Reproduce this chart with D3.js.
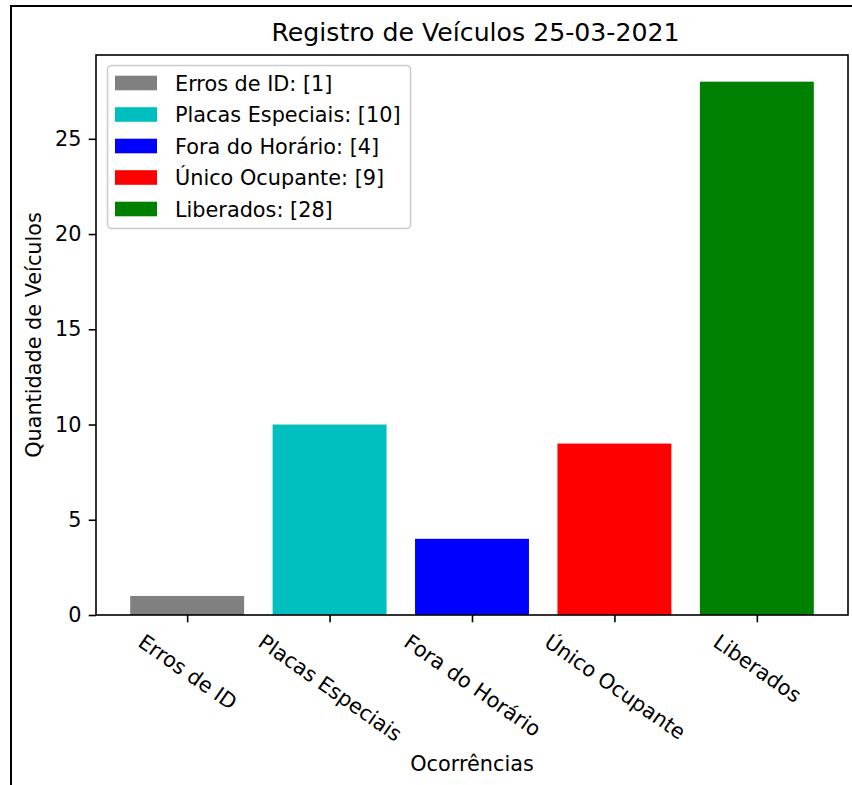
<!DOCTYPE html>
<html>
<head>
<meta charset="utf-8">
<script src="https://cdn.jsdelivr.net/npm/d3@7"></script>
<style>
  body { margin: 0; background: #fff; }
  text { font-family: "DejaVu Sans", sans-serif; fill: #000; }
</style>
</head>
<body>
<div id="chart"></div>
<script>
var categories      =   [ 'Erros de ID', 'Placas Especiais', 'Fora do Horário', 'Único Ocupante', 'Liberados' ];
var values          =   [ 1, 10, 4, 9, 28 ];
var colors          =   [ '#808080', '#00bfbf', '#0000ff', '#ff0000', '#008000' ];
var y_ticks         =   [ 0, 5, 10, 15, 20, 25 ];

var chart_width     =   852;
var chart_height    =   785;
var plot            =   { left: 96, right: 848, top: 55, bottom: 615 };
var font_size       =   20.8;
var tick_len        =   7.3;
var label_rotation  =   35;

var svg             =   d3.select( '#chart' )
    .append( 'svg' )
    .attr( 'width', chart_width )
    .attr( 'height', chart_height );

svg.append( 'rect' )
    .attr( 'width', chart_width )
    .attr( 'height', chart_height )
    .attr( 'fill', '#fff' );

// outer figure frame (only left and top edges are visible)
svg.append( 'path' )
    .attr( 'd', 'M11,' + chart_height + ' L11,6 L' + chart_width + ',6' )
    .attr( 'fill', 'none' )
    .attr( 'stroke', '#000' )
    .attr( 'stroke-width', 2 );

// Scales: matplotlib style, bars width 0.8 with 5% margins
var n               =   categories.length;
var x_lo            =   -0.4, x_hi = n - 1 + 0.4;
var x_pad           =   ( x_hi - x_lo ) * 0.05;
var x_scale         =   d3.scaleLinear()
    .domain([ x_lo - x_pad, x_hi + x_pad ])
    .range([ plot.left, plot.right ]);

var y_scale         =   d3.scaleLinear()
    .domain([ 0, d3.max( values ) * 1.05 ])
    .range([ plot.bottom, plot.top ]);

// Bars
svg.append( 'g' )
    .selectAll( 'rect' )
    .data( values )
    .enter()
    .append( 'rect' )
    .attr( 'x', function( d, i ) { return x_scale( i - 0.4 ); })
    .attr( 'width', function( d, i ) { return x_scale( i + 0.4 ) - x_scale( i - 0.4 ); })
    .attr( 'y', function( d ) { return y_scale( d ); })
    .attr( 'height', function( d ) { return y_scale( 0 ) - y_scale( d ); })
    .attr( 'fill', function( d, i ) { return colors[i]; });

// Y axis
var y_axis          =   d3.axisLeft( y_scale )
    .tickValues( y_ticks )
    .tickSize( tick_len )
    .tickPadding( 7.3 );

var gy = svg.append( 'g' )
    .attr( 'class', 'y-axis' )
    .attr( 'transform', 'translate(' + plot.left + ',0)' )
    .call( y_axis );
gy.select( '.domain' ).remove();
gy.selectAll( 'line' ).attr( 'stroke', '#000' ).attr( 'stroke-width', 1.6 );
gy.selectAll( 'text' )
    .style( 'font-family', '"DejaVu Sans", sans-serif' )
    .style( 'font-size', font_size + 'px' )
    .attr( 'fill', '#000' );

// X axis
var x_axis          =   d3.axisBottom( x_scale )
    .tickValues( d3.range( n ) )
    .tickSize( tick_len )
    .tickFormat( function( i ) { return categories[i]; });

var gx = svg.append( 'g' )
    .attr( 'class', 'x-axis' )
    .attr( 'transform', 'translate(0,' + plot.bottom + ')' )
    .call( x_axis );
gx.select( '.domain' ).remove();
gx.selectAll( 'line' ).attr( 'stroke', '#000' ).attr( 'stroke-width', 1.6 );

// rotated labels: bbox top aligned under the tick, centered horizontally
var ang = label_rotation * Math.PI / 180;
gx.selectAll( 'text' )
    .style( 'font-family', '"DejaVu Sans", sans-serif' )
    .style( 'font-size', font_size + 'px' )
    .attr( 'fill', '#000' )
    .attr( 'y', 0 )
    .attr( 'dy', null )
    .attr( 'text-anchor', 'middle' )
    .attr( 'dominant-baseline', 'central' )
    .each( function() {
        var len = this.getComputedTextLength();
        var h   = font_size * 1.16;
        var bh  = len * Math.sin( ang ) + h * Math.cos( ang );
        var top = tick_len + 7.3;
        d3.select( this ).attr( 'transform', 'translate(0,' + ( top + bh / 2 ) + ') rotate(' + label_rotation + ')' );
    });

// Spines
svg.append( 'rect' )
    .attr( 'x', plot.left )
    .attr( 'y', plot.top )
    .attr( 'width', plot.right - plot.left )
    .attr( 'height', plot.bottom - plot.top )
    .attr( 'fill', 'none' )
    .attr( 'stroke', '#000' )
    .attr( 'stroke-width', 1.6 );

// Title and axis labels
svg.append( 'text' )
    .attr( 'x', 475.5 )
    .attr( 'y', 41 )
    .attr( 'text-anchor', 'middle' )
    .style( 'font-size', '25.2px' )
    .text( 'Registro de Veículos 25-03-2021' );

svg.append( 'text' )
    .attr( 'x', ( plot.left + plot.right ) / 2 )
    .attr( 'y', 771 )
    .attr( 'text-anchor', 'middle' )
    .style( 'font-size', font_size + 'px' )
    .text( 'Ocorrências' );

svg.append( 'text' )
    .attr( 'transform', 'translate(41,' + ( ( plot.top + plot.bottom ) / 2 ) + ') rotate(-90)' )
    .attr( 'text-anchor', 'middle' )
    .style( 'font-size', font_size + 'px' )
    .text( 'Quantidade de Veículos' );

// Legend
var legend = svg.append( 'g' ).attr( 'class', 'legend' );
legend.append( 'rect' )
    .attr( 'x', 107.5 )
    .attr( 'y', 65.5 )
    .attr( 'width', 303 )
    .attr( 'height', 163 )
    .attr( 'rx', 4 )
    .attr( 'fill', '#fff' )
    .attr( 'fill-opacity', 0.8 )
    .attr( 'stroke', '#cccccc' )
    .attr( 'stroke-width', 1.6 );

var rows = legend.selectAll( 'g.row' )
    .data( categories )
    .enter()
    .append( 'g' )
    .attr( 'class', 'row' )
    .attr( 'transform', function( d, i ) { return 'translate(115,' + ( 83 + i * 31.5 ) + ')'; });

rows.append( 'rect' )
    .attr( 'x', 0 )
    .attr( 'y', -7.3 )
    .attr( 'width', 42 )
    .attr( 'height', 14.6 )
    .attr( 'fill', function( d, i ) { return colors[i]; });

rows.append( 'text' )
    .attr( 'x', 60 )
    .attr( 'y', 7.5 )
    .style( 'font-size', font_size + 'px' )
    .text( function( d, i ) { return d + ': [' + values[i] + ']'; });
</script>
</body>
</html>
